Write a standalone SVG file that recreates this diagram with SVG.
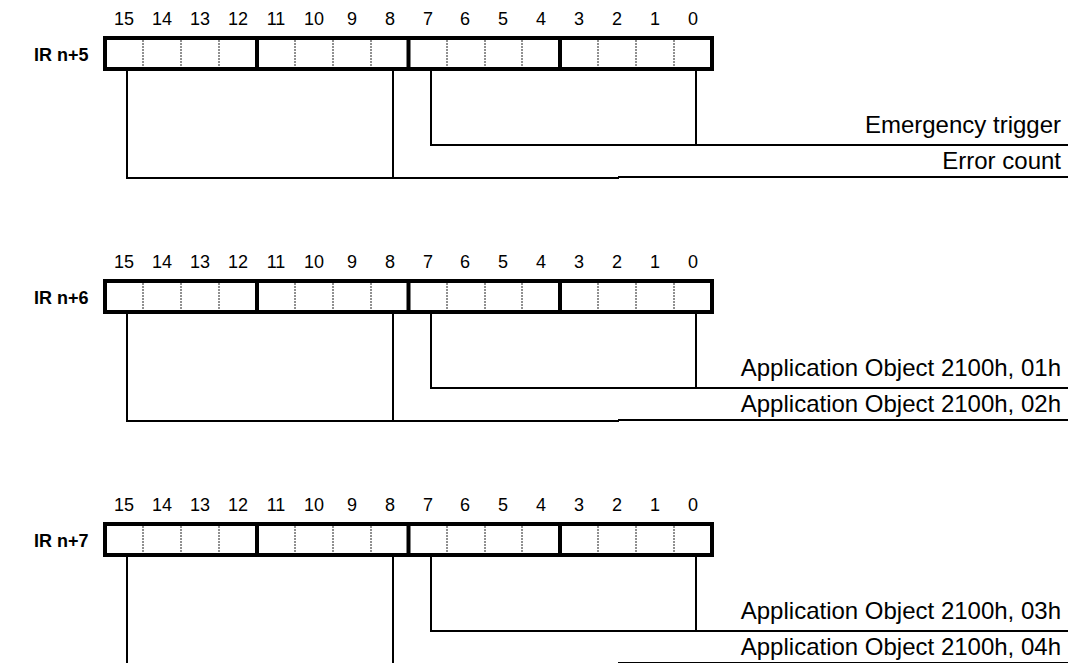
<svg xmlns="http://www.w3.org/2000/svg" width="1079" height="663" viewBox="0 0 1079 663">
<defs>
<style>
.bg{fill:#fff}
.box{fill:none;stroke:#000;stroke-width:4}
.sep{stroke:#000;stroke-width:4}
.dot{stroke:#222;stroke-width:1;stroke-dasharray:2 1}
.ln{stroke:#000;stroke-width:2;fill:none}
.num{font-family:"Liberation Sans",Arial,sans-serif;font-size:18px;text-anchor:middle;fill:#000}
.ir{font-family:"Liberation Sans",Arial,sans-serif;font-size:18px;font-weight:bold;fill:#000}
.lbl{font-family:"Liberation Sans",Arial,sans-serif;font-size:24px;text-anchor:end;fill:#000}
</style>
<g id="reg">
<text class="num" x="124" y="25">15</text>
<text class="num" x="162" y="25">14</text>
<text class="num" x="200" y="25">13</text>
<text class="num" x="238" y="25">12</text>
<text class="num" x="276" y="25">11</text>
<text class="num" x="314" y="25">10</text>
<text class="num" x="352" y="25">9</text>
<text class="num" x="390" y="25">8</text>
<text class="num" x="428" y="25">7</text>
<text class="num" x="465" y="25">6</text>
<text class="num" x="503" y="25">5</text>
<text class="num" x="541" y="25">4</text>
<text class="num" x="579" y="25">3</text>
<text class="num" x="617" y="25">2</text>
<text class="num" x="655" y="25">1</text>
<text class="num" x="693" y="25">0</text>
<line class="dot" x1="143" y1="40" x2="143" y2="67"/>
<line class="dot" x1="181" y1="40" x2="181" y2="67"/>
<line class="dot" x1="219" y1="40" x2="219" y2="67"/>
<line class="dot" x1="295" y1="40" x2="295" y2="67"/>
<line class="dot" x1="333" y1="40" x2="333" y2="67"/>
<line class="dot" x1="371" y1="40" x2="371" y2="67"/>
<line class="dot" x1="447" y1="40" x2="447" y2="67"/>
<line class="dot" x1="485" y1="40" x2="485" y2="67"/>
<line class="dot" x1="522" y1="40" x2="522" y2="67"/>
<line class="dot" x1="598" y1="40" x2="598" y2="67"/>
<line class="dot" x1="636" y1="40" x2="636" y2="67"/>
<line class="dot" x1="674" y1="40" x2="674" y2="67"/>
<line class="sep" x1="257" y1="38" x2="257" y2="69"/>
<line class="sep" x1="408.5" y1="38" x2="408.5" y2="69"/>
<line class="sep" x1="560" y1="38" x2="560" y2="69"/>
<rect class="box" x="105" y="38" width="607" height="31"/>
</g>
</defs>
<rect class="bg" x="0" y="0" width="1079" height="663"/>

<g id="ir5">
<use href="#reg"/>
<text class="ir" x="34" y="61">IR n+5</text>
</g>
<g id="ir6" transform="translate(0,243)">
<use href="#reg"/>
<text class="ir" x="34" y="61">IR n+6</text>
</g>
<g id="ir7" transform="translate(0,486)">
<use href="#reg"/>
<text class="ir" x="34" y="61">IR n+7</text>
</g>

<g id="connectors">
<g id="c5">
<polyline class="ln" points="127,71 127,178 619,178"/>
<line class="ln" x1="393" y1="71" x2="393" y2="178"/>
<polyline class="ln" points="431,71 431,145 1068,145"/>
<line class="ln" x1="696" y1="71" x2="696" y2="145"/>
<line class="ln" x1="618" y1="177" x2="1068" y2="177"/>
</g>
<g id="c6" transform="translate(0,243)">
<polyline class="ln" points="127,71 127,178 619,178"/>
<line class="ln" x1="393" y1="71" x2="393" y2="178"/>
<polyline class="ln" points="431,71 431,145 1068,145"/>
<line class="ln" x1="696" y1="71" x2="696" y2="145"/>
<line class="ln" x1="618" y1="177" x2="1068" y2="177"/>
</g>
<g id="c7" transform="translate(0,486)">
<polyline class="ln" points="127,71 127,178 619,178"/>
<line class="ln" x1="393" y1="71" x2="393" y2="178"/>
<polyline class="ln" points="431,71 431,145 1068,145"/>
<line class="ln" x1="696" y1="71" x2="696" y2="145"/>
<line class="ln" x1="618" y1="177" x2="1068" y2="177"/>
</g>
</g>

<g id="labels">
<text class="lbl" x="1061" y="133">Emergency trigger</text>
<text class="lbl" x="1061" y="169">Error count</text>
<text class="lbl" x="1061" y="376">Application Object 2100h, 01h</text>
<text class="lbl" x="1061" y="412">Application Object 2100h, 02h</text>
<text class="lbl" x="1061" y="619">Application Object 2100h, 03h</text>
<text class="lbl" x="1061" y="655">Application Object 2100h, 04h</text>
</g>
</svg>
